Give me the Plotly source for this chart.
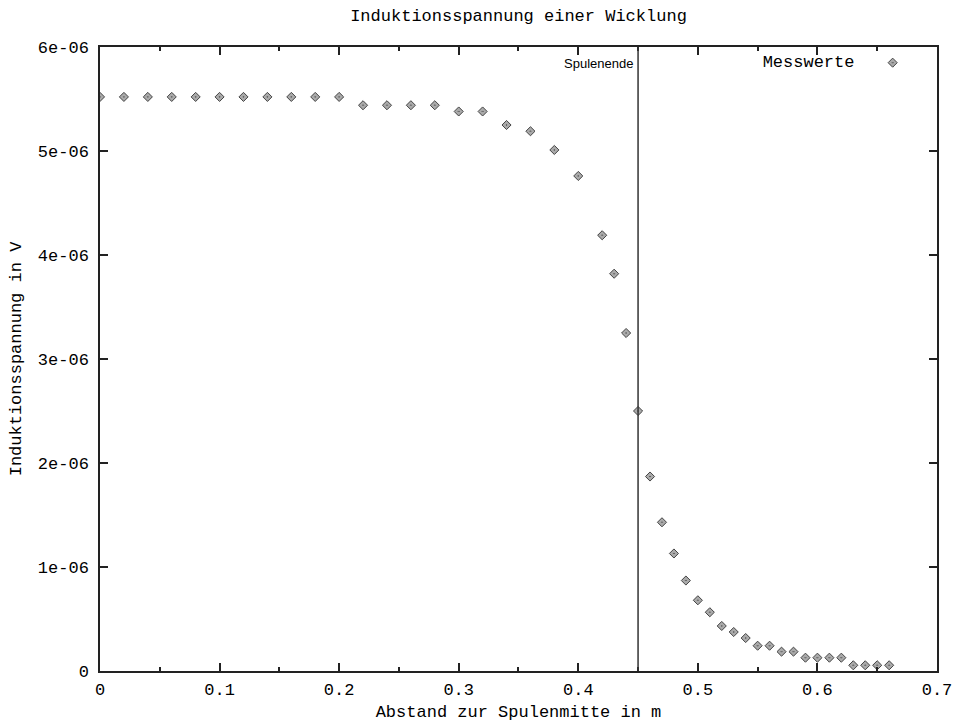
import plotly.graph_objects as go

# Data (distance in m, induced voltage in V)
abstand = [0.00, 0.02, 0.04, 0.06, 0.08, 0.10, 0.12, 0.14, 0.16, 0.18, 0.20,
           0.22, 0.24, 0.26, 0.28, 0.30, 0.32, 0.34, 0.36, 0.38, 0.40, 0.42,
           0.43, 0.44, 0.45, 0.46, 0.47, 0.48, 0.49, 0.50, 0.51, 0.52, 0.53,
           0.54, 0.55, 0.56, 0.57, 0.58, 0.59, 0.60, 0.61, 0.62, 0.63, 0.64,
           0.65, 0.66]
spannung_uV = [5.52, 5.52, 5.52, 5.52, 5.52, 5.52, 5.52, 5.52, 5.52, 5.52, 5.52,
               5.44, 5.44, 5.44, 5.44, 5.38, 5.38, 5.25, 5.19, 5.01, 4.76, 4.19,
               3.82, 3.25, 2.50, 1.87, 1.43, 1.13, 0.87, 0.68, 0.565, 0.433, 0.375,
               0.317, 0.243, 0.243, 0.186, 0.186, 0.128, 0.128, 0.128, 0.128, 0.055, 0.055,
               0.055, 0.055]
spannung = [v * 1e-6 for v in spannung_uV]

spulenende_x = 0.45

x_tickvals = [0, 0.1, 0.2, 0.3, 0.4, 0.5, 0.6, 0.7]
x_ticktext = ["0", "0.1", "0.2", "0.3", "0.4", "0.5", "0.6", "0.7"]
x_minorvals = [0.05, 0.15, 0.25, 0.35, 0.45, 0.55, 0.65]
y_tickvals = [0, 1e-6, 2e-6, 3e-6, 4e-6, 5e-6, 6e-6]
y_ticktext = ["0", "1e-06", "2e-06", "3e-06", "4e-06", "5e-06", "6e-06"]

MONO = "Liberation Mono"
FS = 17

W, H = 954, 722
L, R, T, B = 100, 17, 47, 51

fig = go.Figure()
fig.add_trace(go.Scatter(
    x=abstand, y=spannung, mode="markers", name=" ",
    marker=dict(symbol="diamond-dot", size=7, color="#aaaaaa",
                line=dict(color="#444444", width=1)),
    showlegend=True,
))

fig.add_shape(type="line", xref="x", yref="paper",
              x0=spulenende_x, x1=spulenende_x, y0=0, y1=1,
              line=dict(color="#333333", width=1.5))
fig.add_annotation(x=spulenende_x, y=1, xref="x", yref="paper",
                   text="Spulenende", showarrow=False,
                   xanchor="right", yanchor="top", xshift=-3, yshift=-7,
                   font=dict(family="Liberation Sans, Arial", size=13, color="black"))

fig.update_layout(
    width=W, height=H,
    margin=dict(l=L, r=R, t=T, b=B),
    plot_bgcolor="white", paper_bgcolor="white",
    font=dict(family=MONO, size=FS, color="black"),
    title=dict(text="Induktionsspannung einer Wicklung",
               x=(L + (W - L - R) / 2) / W, xanchor="center",
               y=1 - 15 / H, yanchor="middle", font=dict(family=MONO, size=FS)),
    legend=dict(x=0.99, xanchor="right", y=1.003, yanchor="top",
                bgcolor="rgba(0,0,0,0)",
                title=dict(text="Messwerte\u00a0", side="left", font=dict(family=MONO, size=FS)),
                font=dict(family=MONO, size=FS), itemwidth=30),
)

fig.update_xaxes(
    range=[0, 0.70001], tickmode="array", tickvals=x_tickvals, ticktext=x_ticktext,
    ticks="inside", ticklen=8, tickwidth=1.5, tickcolor="#222",
    showline=True, linecolor="#222", linewidth=1.5, mirror="allticks",
    showgrid=False, zeroline=False, ticklabelstandoff=2,
    minor=dict(tickmode="array", tickvals=x_minorvals, ticks="inside",
               ticklen=4, tickwidth=1.5, tickcolor="#222", showgrid=False),
    title=dict(text="Abstand zur Spulenmitte in m", standoff=8,
               font=dict(family=MONO, size=FS)),
    automargin=False,
)
fig.update_yaxes(
    range=[0, 6e-6], tickmode="array", tickvals=y_tickvals, ticktext=y_ticktext,
    ticks="inside", ticklen=8, tickwidth=1.5, tickcolor="#222",
    showline=True, linecolor="#222", linewidth=1.5, mirror="allticks",
    showgrid=False, zeroline=False, ticklabelstandoff=6,
    title=dict(text="Induktionsspannung in V", standoff=12,
               font=dict(family=MONO, size=FS)),
    automargin=False,
)

fig.write_html("out.html",
               config={"displayModeBar": False},
               post_script="document.body.style.margin='0';document.body.style.overflow='hidden';")
